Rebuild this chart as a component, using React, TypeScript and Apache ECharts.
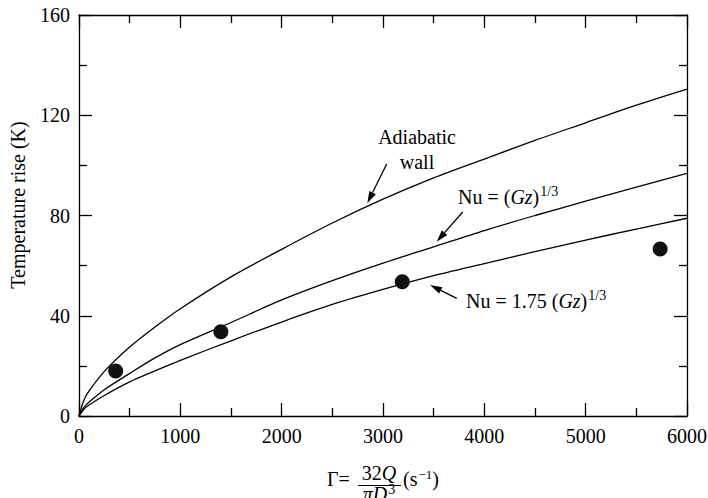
import React, { useEffect, useRef } from "react";
import * as echarts from "echarts";

// Γ values (s^-1) at which the curves were read
const gammaRead = [0, 50, 100, 250, 500, 750, 1000, 1500, 2000, 2500, 3000, 3500, 4000, 4500, 5000, 5500, 6000];
// Temperature rise (K)
const adiabaticWall = [0, 6.5, 10, 17.8, 27.5, 35.5, 42.8, 55.5, 66.5, 77, 86.5, 95, 102.5, 110, 117, 124, 130.4];
const nuGz = [0, 3.5, 5.6, 10.5, 17, 23.2, 28.5, 37.3, 46.3, 54, 61, 67.5, 74, 80, 85.7, 91.3, 96.8];
const nu175Gz = [0, 2.8, 4.4, 8.2, 13.6, 18, 22.2, 30, 37.5, 44.5, 50.5, 56, 60.8, 65.6, 70.2, 74.6, 78.9];
// Measured points
const measuredGamma = [362, 1400, 3190, 5735];
const measuredRise = [18, 33.6, 53.6, 66.6];

const xTicks = { min: 0, max: 6000, interval: 1000 };
const yTicks = { min: 0, max: 160, interval: 40 };

const FONT = "Liberation Serif";

function arrow(x0: number, y0: number, tx: number, ty: number) {
  const dx = tx - x0, dy = ty - y0;
  const len = Math.hypot(dx, dy);
  const ux = dx / len, uy = dy / len;
  const hl = 12, hw = 3.6;
  const bx = tx - ux * hl, by = ty - uy * hl;
  const px = -uy * hw, py = ux * hw;
  return [
    { type: "line", shape: { x1: x0, y1: y0, x2: bx, y2: by }, style: { stroke: "#000", lineWidth: 1.3 } },
    {
      type: "polygon",
      shape: { points: [[tx, ty], [bx + px, by + py], [bx - px, by - py]] },
      style: { fill: "#000" },
    },
  ];
}

const rich = (size: number, sup: number, raise: number) => ({
  n: { fontFamily: FONT, fontSize: size, color: "#000" },
  i: { fontFamily: FONT, fontSize: size, fontStyle: "italic", color: "#000" },
  s: { fontFamily: FONT, fontSize: sup, color: "#000", padding: [0, 0, raise, 1] },
});

function txt(x: number, y: number, text: string, opts: any = {}) {
  const size = opts.size || 20;
  return {
    type: "text",
    x,
    y,
    rotation: opts.rotation || 0,
    style: {
      text,
      fontFamily: FONT,
      fontSize: size,
      fontStyle: opts.italic ? "italic" : "normal",
      fill: "#000",
      align: opts.align || "left",
      verticalAlign: opts.va || "middle",
      rich: rich(size, opts.sup || 14, opts.raise ?? 12),
    },
  };
}

export default function App() {
  const ref = useRef<HTMLDivElement>(null);
  useEffect(() => {
    const chart = echarts.init(ref.current!, null, { renderer: "svg" });
    const lineStyle = { color: "#000", width: 1.3 };
    const mk = (ys: number[]) => gammaRead.map((g, i) => [g, ys[i]]);
    const tickCommon = {
      axisLine: { show: true, onZero: false, lineStyle: { color: "#000", width: 1.3 } },
      axisTick: { show: true, inside: true, length: 13, lineStyle: { color: "#000", width: 1.3 } },
      minorTick: { show: true, splitNumber: 2, length: 8, lineStyle: { color: "#000", width: 1.3 } },
      splitLine: { show: false },
      minorSplitLine: { show: false },
    };
    const labelStyle = {
      color: "#000",
      fontFamily: FONT,
      fontSize: 20,
      formatter: (v: number) => String(v),
    };
    chart.setOption({
      animation: false,
      backgroundColor: "#fff",
      grid: { left: 79, right: 21, top: 15, bottom: 82, containLabel: false, outerBoundsMode: "none" },
      xAxis: [
        { type: "value", position: "bottom", ...xTicks, ...tickCommon, axisLabel: { ...labelStyle, margin: 10 } },
        { type: "value", position: "top", ...xTicks, ...tickCommon, axisLabel: { show: false } },
      ],
      yAxis: [
        { type: "value", position: "left", ...yTicks, ...tickCommon, axisLabel: { ...labelStyle, margin: 9 } },
        { type: "value", position: "right", ...yTicks, ...tickCommon, axisLabel: { show: false } },
      ],
      series: [
        { name: "Adiabatic wall", type: "line", data: mk(adiabaticWall), smooth: 0.3, showSymbol: false, lineStyle },
        { name: "Nu = (Gz)^1/3", type: "line", data: mk(nuGz), smooth: 0.3, showSymbol: false, lineStyle },
        { name: "Nu = 1.75 (Gz)^1/3", type: "line", data: mk(nu175Gz), smooth: 0.3, showSymbol: false, lineStyle },
        {
          name: "Measured",
          type: "scatter",
          data: measuredGamma.map((g, i) => [g, measuredRise[i]]),
          symbol: "circle",
          symbolSize: 15,
          itemStyle: { color: "#111", opacity: 1 },
          z: 5,
        },
      ],
      graphic: [
        // y-axis title
        txt(18, 205, "Temperature rise (K)", { size: 20, align: "center", rotation: Math.PI / 2 }),
        // annotations
        txt(417, 137, "Adiabatic", { size: 20, align: "center" }),
        txt(417, 162, "wall", { size: 20, align: "center" }),
        ...arrow(386.7, 164, 367.3, 203.3),
        txt(458, 197, "{n|Nu = (}{i|Gz}{n|)}{s|1/3}", { size: 20 }),
        ...arrow(462.7, 212, 436.7, 241.7),
        txt(466, 301, "{n|Nu = 1.75 (}{i|Gz}{n|)}{s|1/3}", { size: 20 }),
        ...arrow(456.7, 298.3, 430, 285),
        // x-axis title
        txt(327, 479, "{n|Γ=}", { size: 20 }),
        txt(379, 473, "{n|32}{i|Q}", { size: 20, align: "center" }),
        { type: "line", shape: { x1: 358, y1: 485.5, x2: 401, y2: 485.5 }, style: { stroke: "#000", lineWidth: 1 } },
        txt(379, 494, "{i|πD}{s|3}", { size: 20, align: "center", raise: 10 }),
        txt(403, 479, "{n|(s}{s|−1}{n|)}", { size: 20, sup: 13, raise: 10 }),
      ],
    });
    return () => chart.dispose();
  }, []);
  return <div ref={ref} style={{ width: 708, height: 498, position: "fixed", left: 0, top: 0 }} />;
}
